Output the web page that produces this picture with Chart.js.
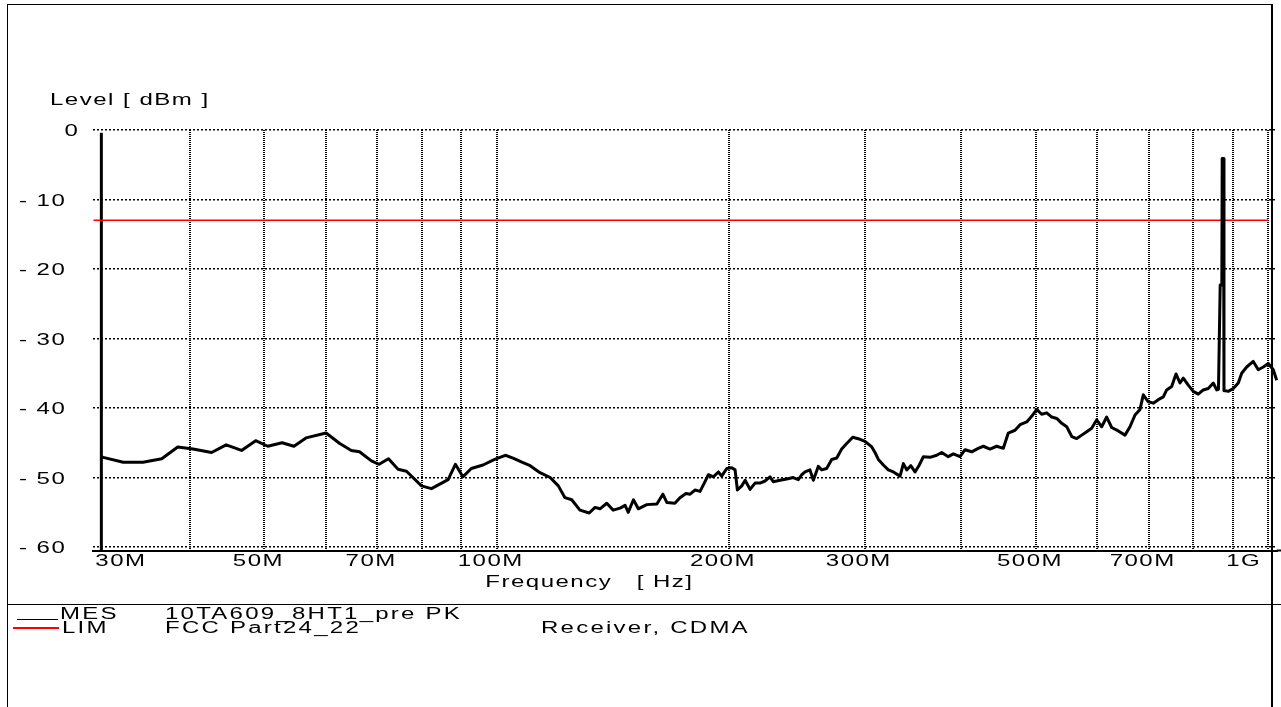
<!DOCTYPE html>
<html>
<head>
<meta charset="utf-8">
<title>Level [dBm] vs Frequency</title>
<script src="https://cdn.jsdelivr.net/npm/chart.js@4.4.1/dist/chart.umd.min.js"></script>
<style>
  html, body { margin: 0; padding: 0; background: #fff; }
  #wrap { position: relative; width: 1281px; height: 707px; overflow: hidden; }
  #frame { position: absolute; left: 7px; top: 4px; width: 1262.5px; height: 720px;
           border-left: 1.5px solid #000; border-top: 1.5px solid #000; border-right: 2.5px solid #000; }
  #sep { position: absolute; left: 8px; top: 604px; width: 1273px; border-top: 1.5px solid #000; }
  #myChart { position: absolute; left: 0; top: 0; }
  .txt { position: absolute; font: 16px "Liberation Sans", Arial, sans-serif; line-height: 16px;
         letter-spacing: 1px; white-space: pre; transform: scaleX(1.5); transform-origin: 0 0; color: #000; }
  .leg { letter-spacing: 1.5px; }
  .key { position: absolute; height: 0; }
</style>
</head>
<body>
<div id="wrap">
  <div id="frame"></div>
  <div id="sep"></div>
  <canvas id="myChart" width="1281" height="707"></canvas>
  <div class="txt" style="left:50px; top:92px;">Level [ dBm ]</div>

  <div class="key" style="left:17px; top:619px; width:41px; border-top:1.5px solid #000;"></div>
  <div class="txt leg" style="left:60px; top:606px;">MES</div>
  <div class="txt leg" style="left:165px; top:606px;">10TA609_8HT1_pre PK</div>

  <div class="key" style="left:13px; top:627px; width:46px; border-top:2px solid #ff0000;"></div>
  <div class="txt leg" style="left:62px; top:620px;">LIM</div>
  <div class="txt leg" style="left:165px; top:620px;">FCC Part24_22</div>
  <div class="txt leg" style="left:541px; top:620px;">Receiver, CDMA</div>
</div>

<script>
let FREQ = [30.73, 30.9, 32.8, 34.8, 36.8, 38.6, 40.4, 42.7, 44.6, 46.7, 48.7, 50.5, 52.7, 54.6, 56.6, 60.1, 62.6, 64.8, 66.4, 68.8, 70.4,
    72.4, 74.5, 76.4, 79.9, 82.3, 86.5, 88.4, 90.4, 92.7, 96.0, 99.4, 102.6, 105.0, 107.8, 110.5, 113.8, 117.3, 120.2, 122.6, 125.1,
    128.2, 131.8, 134.1, 136.1, 138.9, 141.6, 144.5, 146.7, 148.1, 150.4, 152.6, 156.5, 161.3, 164.2, 166.2, 170.2, 172.8, 175.9,
    178.1, 180.7, 183.5, 186.2, 188.1, 190.9, 193.8, 195.7, 198.7, 201.7, 203.7, 205.1, 207.8, 209.9, 213.0, 216.2, 219.4, 222.7,
    226.1, 228.3, 232.9, 237.6, 242.3, 246.0, 248.5, 251.0, 254.7, 257.3, 261.1, 263.8, 267.7, 271.8, 275.9, 280.0, 284.2, 289.4,
    295.8, 300.2, 306.3, 309.3, 312.4, 317.1, 321.8, 326.7, 333.3, 336.6, 340.0, 344.1, 348.5, 353.0, 357.3, 364.5, 371.8, 377.4,
    384.9, 390.7, 398.6, 404.6, 412.7, 420.9, 427.3, 435.9, 444.7, 453.6, 460.4, 469.7, 476.8, 486.4, 493.7, 501.1, 508.6, 516.3,
    524.1, 532.0, 540.0, 548.1, 556.4, 564.7, 573.2, 581.8, 590.5, 599.4, 608.4, 617.5, 626.8, 639.3, 652.2, 662.0, 672.0, 682.1,
    688.8, 699.2, 709.7, 720.3, 731.2, 738.6, 749.7, 759.4, 768.5, 776.1, 787.8, 799.6, 811.6, 823.8, 836.2, 848.8, 857.4, 862.1,
    866.5, 870.8, 871.7, 875.1, 876.4, 887.7, 901.0, 914.6, 923.9, 937.8, 956.4, 970.8, 985.5, 1000.3, 1015.3, 1025.7]
let LEVEL = [-47.0, -47.1, -47.8, -47.8, -47.3, -45.6, -45.9, -46.4, -45.3, -46.1, -44.7, -45.5, -45.0, -45.5, -44.3, -43.6, -45.1, -46.1, -46.3, -47.6, -48.1,
    -47.3, -48.8, -49.1, -51.2, -51.6, -50.3, -48.1, -49.9, -48.7, -48.2, -47.4, -46.8, -47.2, -47.8, -48.3, -49.3, -50.0, -51.2, -52.9, -53.2,
    -54.7, -55.1, -54.3, -54.5, -53.7, -54.7, -54.4, -54.0, -55.0, -53.2, -54.5, -53.9, -53.8, -52.4, -53.6, -53.7, -52.9, -52.3,
    -52.4, -51.8, -52.0, -50.6, -49.6, -49.9, -49.2, -49.8, -48.7, -48.6, -48.9, -51.8, -51.2, -50.4, -51.7, -50.8, -50.8, -50.5,
    -49.9, -50.6, -50.4, -50.2, -50.0, -50.3, -49.6, -49.2, -48.9, -50.4, -48.4, -48.9, -48.7, -47.4, -47.2, -45.9, -45.1, -44.2,
    -44.5, -44.8, -45.6, -46.4, -47.4, -48.2, -48.9, -49.2, -49.8, -48.0, -48.9, -48.3, -49.2, -48.2, -47.0, -47.1, -46.8, -46.4,
    -47.0, -46.6, -47.0, -46.0, -46.3, -45.8, -45.5, -45.9, -45.5, -45.8, -43.6, -43.2, -42.4, -42.0, -41.2, -40.2, -40.9, -40.7,
    -41.3, -41.5, -42.2, -42.7, -44.1, -44.4, -43.9, -43.4, -42.9, -41.7, -42.7, -41.3, -42.8, -43.3, -43.9, -42.7, -41.0, -40.2,
    -38.1, -39.1, -39.3, -38.8, -38.4, -37.4, -36.9, -35.1, -36.4, -35.7, -36.7, -37.6, -38.0, -37.4, -37.2, -36.4, -37.4, -37.3,
    -22.3, -22.3, -4.1, -4.1, -37.5, -37.6, -37.2, -36.4, -35.0, -34.1, -33.3, -34.5, -34.1, -33.6, -34.5, -36.0]

// limit line FCC Part 24_22
let LIM_FREQ = [30, 1000]
let LIM_LEVEL = [-13, -13]

// scan start marker
let START_FREQ = [30.73, 30.73]
let START_LEVEL = [-0.4, -60.5]

let GRID_FREQ = [40, 50, 60, 70, 80, 90, 100, 200, 300, 400, 500, 600, 700, 800, 900, 1000]
let X_TICK_FREQ = [30, 50, 70, 100, 200, 300, 500, 700, 1000]
let X_TICK_LABEL = ['30M', '50M', '70M', '100M', '200M', '300M', '500M', '700M', '1G']
let Y_TICK = [-60, -50, -40, -30, -20, -10, 0]
let Y_TICK_LABEL = ['- 60', '- 50', '- 40', '- 30', '- 20', '- 10', '0']

let ctx = document.getElementById('myChart');

function toPoints(xs, ys) {
    return xs.map((x, i) => ({ x: x, y: ys[i] }))
}

// the report font is drawn wide, so stretch it sideways
function wideText(c, text, x, y, align) {
    c.save()
    c.font = '16px "Liberation Sans", Arial, sans-serif'
    c.letterSpacing = '1px'
    c.fillStyle = '#000'
    c.textAlign = align
    c.textBaseline = 'alphabetic'
    c.translate(x, y)
    c.scale(1.5, 1)
    c.fillText(text, 0, 0)
    c.restore()
}

let labelPlugin = {
    id: 'reportLabels',
    afterDraw(chart) {
        let c = chart.ctx
        let area = chart.chartArea
        let xs = chart.scales.x
        let ys = chart.scales.y

        Y_TICK.forEach((v, i) => {
            let right = v === 0 ? area.left - 14 : area.left - 27
            wideText(c, Y_TICK_LABEL[i], right, ys.getPixelForValue(v) + 6, 'right')
        })

        let base = area.bottom + 15.5
        X_TICK_FREQ.forEach((f, i) => {
            let px = xs.getPixelForValue(f)
            if (i === 0) wideText(c, X_TICK_LABEL[i], px + 2, base, 'left')
            else if (i === X_TICK_FREQ.length - 1) wideText(c, X_TICK_LABEL[i], px - 7, base, 'right')
            else wideText(c, X_TICK_LABEL[i], px - 6, base, 'center')
        })

        wideText(c, 'Frequency   [ Hz]', area.left + 392, area.bottom + 36, 'left')

        // axis line runs on to the page edge
        c.save()
        c.strokeStyle = '#000'
        c.lineWidth = 2
        c.beginPath()
        c.moveTo(area.right, area.bottom)
        c.lineTo(chart.width, area.bottom)
        c.stroke()
        c.restore()
    }
}

let myChart = new Chart(ctx, {
    type: 'line',
    data: {
        datasets: [{
            label: 'MES 10TA609_8HT1_pre PK',
            data: toPoints(FREQ, LEVEL),
            borderColor: '#000',
            borderWidth: 3,
            borderJoinStyle: 'round',
            pointRadius: 0,
            tension: 0,
            clip: false
        },
        {
            label: 'LIM FCC Part24_22',
            data: toPoints(LIM_FREQ, LIM_LEVEL),
            borderColor: '#ff0000',
            borderWidth: 1.5,
            pointRadius: 0
        },
        {
            label: 'start',
            data: toPoints(START_FREQ, START_LEVEL),
            borderColor: '#000',
            borderWidth: 3,
            pointRadius: 0,
            clip: false
        }]
    },
    plugins: [labelPlugin],
    options: {
        responsive: false,
        animation: false,
        devicePixelRatio: 1,
        events: [],
        layout: {
            padding: { left: 0, top: 130, right: 4.2, bottom: 156.5 }
        },
        plugins: {
            legend: { display: false },
            tooltip: { enabled: false },
            title: { display: false }
        },
        scales: {
            x: {
                type: 'logarithmic',
                min: 30,
                max: 1026,
                afterBuildTicks: (scale) => { scale.ticks = GRID_FREQ.map(v => ({ value: v })) },
                afterFit: (scale) => { scale.height = 0 },
                ticks: { display: false, autoSkip: false },
                grid: { color: '#000', lineWidth: 2, drawTicks: false },
                border: { display: true, color: '#000', width: 2, dash: [1, 1] }
            },
            y: {
                type: 'linear',
                min: -60.5,
                max: 0,
                afterBuildTicks: (scale) => { scale.ticks = Y_TICK.map(v => ({ value: v })) },
                afterFit: (scale) => { scale.width = 93.3 },
                ticks: { display: false },
                grid: { color: '#000', lineWidth: 1.5, drawTicks: false },
                border: { display: false, dash: [2, 2] }
            }
        }
    }
});
</script>
</body>
</html>
